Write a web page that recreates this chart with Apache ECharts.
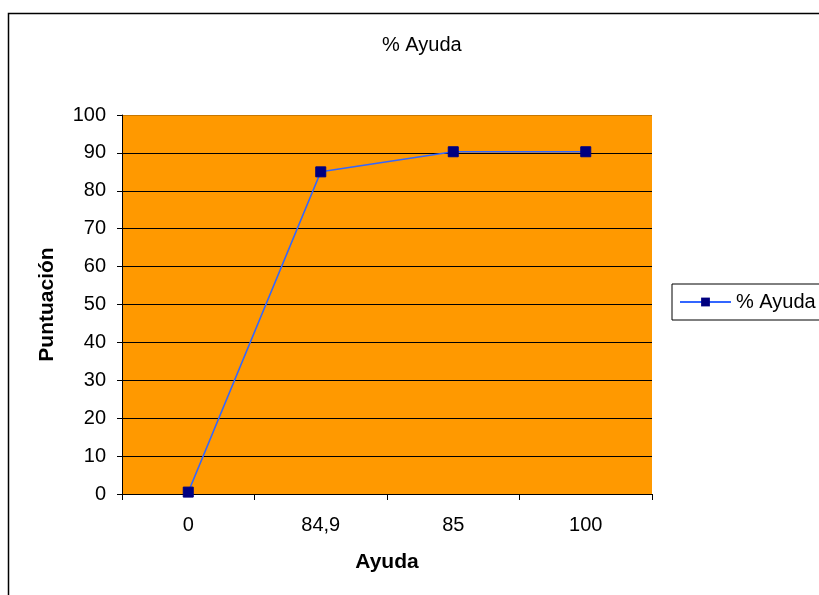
<!DOCTYPE html>
<html>
<head>
<meta charset="utf-8">
<script src="https://cdn.jsdelivr.net/npm/echarts@6/dist/echarts.min.js"></script>
<style>
html,body{margin:0;padding:0;background:#fff;}
#c{width:819px;height:595px;}
</style>
</head>
<body>
<div id="c"></div>
<script>
const categories = ['0', '84,9', '85', '100'];
const ayudaValues = [0.5, 85, 90.3, 90.3];
const yTicks = [0, 100, 10];

const FONT = 'Liberation Sans, Arial, sans-serif';
const chart = echarts.init(document.getElementById('c'), null, {renderer: 'canvas'});
const splitColors = [];
for (let i = 0; i <= 10; i++) splitColors.push(i === 10 ? '#c77700' : '#000');

chart.setOption({
  animation: false,
  backgroundColor: '#fff',
  textStyle: {fontFamily: FONT},
  title: {
    text: '% Ayuda',
    left: 377,
    top: 30,
    textStyle: {fontSize: 20, fontWeight: 'normal', color: '#000', fontFamily: FONT}
  },
  graphic: [{
    type: 'rect',
    shape: {x: 8.5, y: 13.5, width: 900, height: 700},
    style: {fill: 'none', stroke: '#000', lineWidth: 1.5},
    silent: true,
    z: -1
  }],
  legend: {
    data: ['% Ayuda'],
    left: 672,
    top: 284,
    orient: 'vertical',
    backgroundColor: '#fff',
    borderColor: '#000',
    borderWidth: 1,
    padding: [8, 30, 8, 7],
    itemWidth: 51,
    itemHeight: 11,
    itemGap: 6,
    textStyle: {fontSize: 20, color: '#000', fontFamily: FONT}
  },
  grid: {
    left: 122, right: 167, top: 115, bottom: 101,
    show: true, backgroundColor: '#FF9900', borderWidth: 0
  },
  xAxis: {
    type: 'category',
    data: categories,
    boundaryGap: true,
    name: 'Ayuda',
    nameLocation: 'middle',
    nameGap: 58,
    nameTextStyle: {fontSize: 21, fontWeight: 'bold', color: '#000', fontFamily: FONT},
    axisLine: {lineStyle: {color: '#000', width: 1}},
    axisTick: {show: true, alignWithLabel: false, length: 6, lineStyle: {color: '#000'}},
    axisLabel: {fontSize: 20, color: '#000', margin: 21, fontFamily: FONT},
    splitLine: {show: false}
  },
  yAxis: {
    type: 'value',
    min: yTicks[0],
    max: yTicks[1],
    interval: yTicks[2],
    name: 'Puntuación',
    nameLocation: 'middle',
    nameGap: 64,
    nameRotate: 90,
    nameTextStyle: {fontSize: 21, fontWeight: 'bold', color: '#000', fontFamily: FONT},
    axisLine: {show: true, lineStyle: {color: '#000', width: 1}},
    axisTick: {show: true, length: 5, lineStyle: {color: '#000'}},
    axisLabel: {fontSize: 20, color: '#000', margin: 16, fontFamily: FONT},
    splitLine: {show: true, lineStyle: {color: splitColors, width: 1}}
  },
  series: [{
    name: '% Ayuda',
    type: 'line',
    data: ayudaValues,
    symbol: 'rect',
    symbolSize: 10,
    itemStyle: {color: '#000080', borderColor: '#000080'},
    lineStyle: {color: '#3366FF', width: 1.5},
    z: 5
  }]
});
</script>
</body>
</html>
